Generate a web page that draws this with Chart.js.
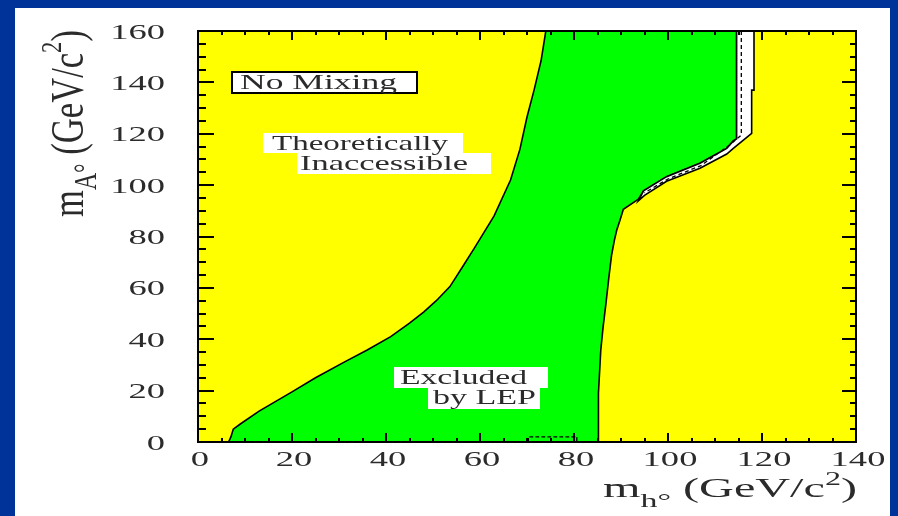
<!DOCTYPE html>
<html>
<head>
<meta charset="utf-8">
<script src="https://cdn.jsdelivr.net/npm/chart.js@4.4.1/dist/chart.umd.min.js"></script>
<style>
  html, body { margin: 0; padding: 0; background: #003399; }
  canvas { display: block; }
</style>
</head>
<body>
<canvas id="cv" width="898" height="516"></canvas>
<script>
// axis ticks (GeV/c^2)
const xTicks = [0, 20, 40, 60, 80, 100, 120, 140];
const yTicks = [0, 20, 40, 60, 80, 100, 120, 140, 160];
const minorStep = 5;

// left edge of the LEP excluded region (theory bound side), bottom -> top
const leftX = [6.5, 7, 7.5, 9, 13, 20, 25, 31, 36, 41, 45, 48, 50.7, 53.6, 56.4, 58.8, 63, 66.5, 68.5, 70, 71.5, 73, 74];
const leftY = [0, 2, 5, 7, 12, 19.5, 25, 31, 35.8, 41, 46.3, 50.6, 55, 60.5, 68.5, 75.5, 88, 102, 114, 126.5, 137, 148.5, 160];

// right edge of the observed excluded region, top -> bottom
const rightX = [114.6, 114.6, 113.9, 112.5, 106.8, 99.7, 94.8, 93.7, 90.5, 89.8, 89.1, 88.6, 88, 87.4, 86.8, 86.2, 85.7, 85.2, 85.2];
const rightY = [160, 118, 117.2, 114.3, 108.5, 103.3, 97.8, 94.5, 90.6, 86.4, 82.5, 78.6, 72.8, 63.8, 54, 44.9, 35.8, 19, 0];

// outer edge of the white band, top -> bottom
const bandX = [118.3, 118.3, 117.8, 117.8, 113.9, 112.5, 106.8, 99.7, 95, 93.7];
const bandY = [160, 137, 137, 120.1, 114.3, 112.1, 106.6, 101.5, 96, 93.9];

// dashed (expected) limit
const dashX = [115.6, 115.6, 113.2, 107, 100, 95];
const dashY = [160, 119.5, 115.7, 107.6, 102.4, 97];

// small dashed box near the axis
const boxX = [70.3, 70.3, 80.6, 80.6];
const boxY = [0, 2, 2, 0];

const pts = (xs, ys) => xs.map((x, i) => ({ x: x, y: ys[i] }));

const greenPts = pts(leftX, leftY).concat(pts(rightX, rightY));
const whitePts = pts(bandX, bandY).concat(pts(rightX.slice(0, 7), rightY.slice(0, 7)).reverse());

const FONT = '"Liberation Serif", "DejaVu Serif", serif';
const INK = '#2b2b2b';

// draws a run of text parts [text, size, dy] stretched horizontally
function textRun(ctx, parts, x, y, o) {
  o = o || {};
  let nat = 0;
  parts.forEach(p => {
    ctx.font = p[1] + 'px ' + FONT;
    nat += ctx.measureText(p[0]).width;
  });
  const sx = o.w ? o.w / nat : (o.sx || 1);
  ctx.save();
  ctx.fillStyle = INK;
  ctx.textBaseline = 'alphabetic';
  ctx.translate(x, y);
  if (o.rot) ctx.rotate(o.rot);
  ctx.scale(sx, o.perp || 1);
  let cx = 0;
  parts.forEach(p => {
    ctx.font = p[1] + 'px ' + FONT;
    ctx.fillText(p[0], cx, p[2] || 0);
    cx += ctx.measureText(p[0]).width;
  });
  ctx.restore();
  return nat * sx;
}

function labelBox(ctx, x0, y0, x1, y1, border) {
  ctx.save();
  ctx.fillStyle = '#fff';
  ctx.fillRect(x0, y0, x1 - x0, y1 - y0);
  if (border) {
    ctx.strokeStyle = '#000';
    ctx.lineWidth = 2;
    ctx.strokeRect(x0, y0, x1 - x0, y1 - y0);
  }
  ctx.restore();
}

const decor = {
  id: 'decor',
  beforeDraw(chart) {
    const { ctx, chartArea: a } = chart;
    ctx.save();
    ctx.fillStyle = '#003399';
    ctx.fillRect(0, 0, chart.width, chart.height);
    ctx.fillStyle = '#fff';
    ctx.fillRect(15, 8, 875, 508);
    ctx.fillStyle = '#ffff00';
    ctx.fillRect(a.left, a.top, a.right - a.left, a.bottom - a.top);
    ctx.restore();
  },
  afterDraw(chart) {
    const { ctx, chartArea: a } = chart;
    const xs = chart.scales.x, ys = chart.scales.y;

    // text boxes
    labelBox(ctx, 232, 72, 417, 93, true);
    textRun(ctx, [['No Mixing', 21]], 240, 89, { w: 157 });
    labelBox(ctx, 263, 133, 463, 153);
    labelBox(ctx, 297, 153, 491, 174);
    textRun(ctx, [['Theoretically', 21]], 272, 150, { w: 176 });
    textRun(ctx, [['Inaccessible', 21]], 300, 170, { w: 168 });
    labelBox(ctx, 394, 367, 548, 388);
    labelBox(ctx, 428, 388, 540, 409);
    textRun(ctx, [['Excluded', 21]], 400, 384, { w: 127 });
    textRun(ctx, [['by LEP', 21]], 433, 404, { w: 103 });

    // frame + ticks
    ctx.save();
    ctx.strokeStyle = '#000';
    ctx.lineWidth = 2;
    ctx.strokeRect(a.left, a.top, a.right - a.left, a.bottom - a.top);
    ctx.beginPath();
    for (let v = xs.min; v <= xs.max; v += minorStep) {
      const px = Math.round(xs.getPixelForValue(v));
      const len = xTicks.includes(v) ? 9 : 4;
      ctx.moveTo(px, a.bottom); ctx.lineTo(px, a.bottom - len);
      ctx.moveTo(px, a.top); ctx.lineTo(px, a.top + len);
    }
    for (let v = ys.min; v <= ys.max; v += minorStep) {
      const py = Math.round(ys.getPixelForValue(v));
      const major = yTicks.includes(v);
      ctx.moveTo(a.left, py); ctx.lineTo(a.left + (major ? 16 : 8), py);
      ctx.moveTo(a.right, py); ctx.lineTo(a.right - (major ? 14 : 6), py);
    }
    ctx.stroke();
    ctx.restore();

    // tick labels
    const sx = 1.66;
    ctx.font = '22px ' + FONT;
    yTicks.forEach(v => {
      const t = String(v);
      const w = ctx.measureText(t).width * sx;
      textRun(ctx, [[t, 22]], 165 - w, ys.getPixelForValue(v) + 7.5, { sx: sx });
      ctx.font = '22px ' + FONT;
    });
    xTicks.forEach(v => {
      const t = String(v);
      const w = ctx.measureText(t).width * sx;
      textRun(ctx, [[t, 22]], xs.getPixelForValue(v) - w / 2 + 2, 466, { sx: sx });
      ctx.font = '22px ' + FONT;
    });

    // axis titles
    textRun(ctx, [['m', 27], ['h\u00b0', 19, 10], [' (GeV/c', 27], ['2', 18, -12], [')', 27]],
      603, 497, { w: 254 });
    textRun(ctx, [['m', 32], ['A\u00b0', 22, 9], [' (GeV/c', 32], ['2', 21, -15], [')', 32]],
      83, 217, { w: 187, rot: -Math.PI / 2, perp: 1.45 });
  }
};

const line = {
  showLine: true, pointRadius: 0, tension: 0, borderColor: '#000'
};

new Chart(document.getElementById('cv').getContext('2d'), {
  type: 'scatter',
  data: {
    datasets: [
      Object.assign({}, line, { label: 'box', data: pts(boxX, boxY), borderWidth: 1.3, borderDash: [4, 2], fill: false, order: 0 }),
      Object.assign({}, line, { label: 'expected', data: pts(dashX, dashY), borderWidth: 1.3, borderDash: [4, 3], fill: false, order: 1 }),
      Object.assign({}, line, { label: 'band', data: whitePts, borderWidth: 1.6, backgroundColor: '#ffffff', fill: 'shape', order: 2 }),
      Object.assign({}, line, { label: 'excluded', data: greenPts, borderWidth: 1.6, backgroundColor: '#00ff00', fill: 'shape', order: 3 })
    ]
  },
  options: {
    responsive: false,
    animation: false,
    layout: { padding: { left: 198, top: 31, right: 42, bottom: 74 } },
    scales: {
      x: { type: 'linear', min: 0, max: 140, display: false },
      y: { type: 'linear', min: 0, max: 160, display: false }
    },
    plugins: { legend: { display: false }, tooltip: { enabled: false } }
  },
  plugins: [decor]
});
</script>
</body>
</html>
